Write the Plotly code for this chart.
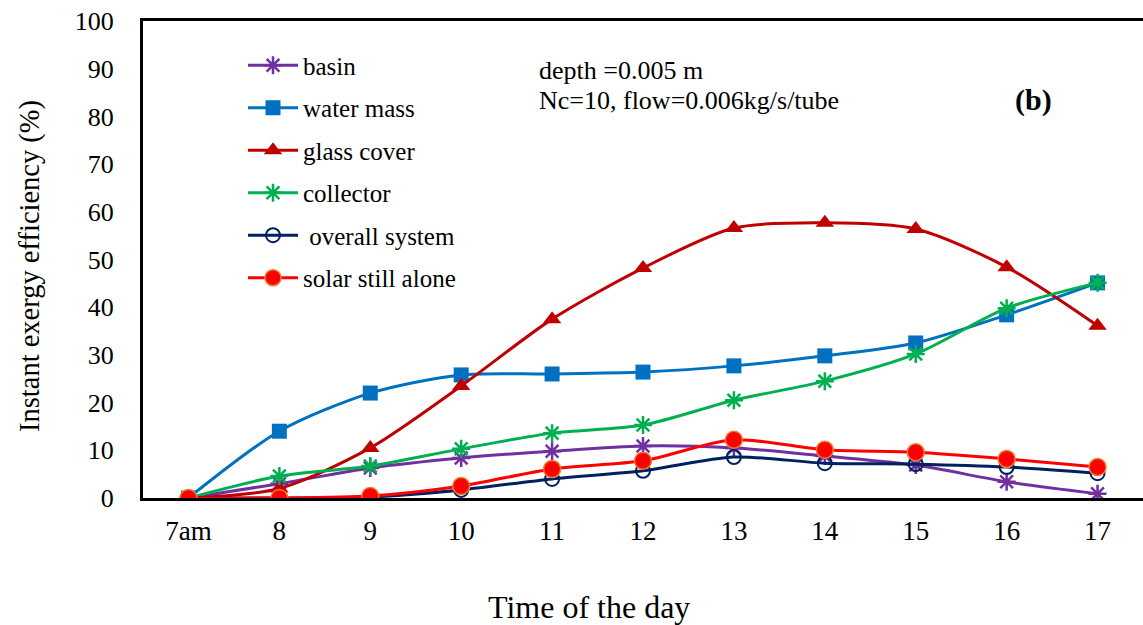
import plotly.graph_objects as go

hours = ["7am", "8", "9", "10", "11", "12", "13", "14", "15", "16", "17"]
basin = [0, 3.0, 6.3, 8.4, 9.8, 10.9, 10.5, 8.8, 6.9, 3.4, 0.9]
water_mass = [0, 14.0, 22.0, 25.8, 26.0, 26.4, 27.7, 29.8, 32.5, 38.4, 45.1]
glass_cover = [0, 2.0, 10.5, 23.5, 37.5, 48.2, 56.6, 57.7, 56.4, 48.4, 36.1]
collector = [0, 4.6, 6.7, 10.3, 13.6, 15.3, 20.5, 24.5, 30.2, 39.8, 45.1]
overall = [0, 0, 0.2, 1.7, 4.0, 5.7, 8.6, 7.3, 7.1, 6.5, 5.2]
solar_still = [0, 0, 0.4, 2.5, 6.1, 7.8, 12.2, 10.1, 9.6, 8.2, 6.5]

FONT = "Liberation Serif, Times New Roman, serif"
fig = go.Figure()

def add(name, y, color, symbol, size, mcolor=None, mline=None, mlw=0):
    fig.add_trace(go.Scatter(
        x=hours, y=y, name=name, mode="lines+markers",
        line=dict(color=color, width=3, shape="spline", smoothing=0.8),
        marker=dict(symbol=symbol, size=size, color=mcolor or color,
                    line=dict(color=mline or color, width=mlw)),
        legendgroup=name,
    ))

add("basin", basin, "#7030A0", "asterisk-open", 15, mlw=2.5)
add("water mass", water_mass, "#0070C0", "square", 15)
add("glass cover", glass_cover, "#C00000", "triangle-up", 16)
add("collector", collector, "#00B050", "asterisk-open", 15, mlw=2.5)
add(" overall system", overall, "#002060", "circle-open", 14, mlw=2)
add("solar still alone", solar_still, "#FF0000", "circle", 17, mcolor="#FF0000", mline="#ED7D31", mlw=1.5)

txt = dict(family=FONT, color="black")
fig.update_layout(
    width=1143, height=625,
    margin=dict(l=143, r=0, t=21, b=127),
    plot_bgcolor="white", paper_bgcolor="white",
    font=dict(family=FONT, color="black", size=26),
    showlegend=True,
    legend=dict(x=0.1, y=0.955, xanchor="left", yanchor="top",
                font=dict(family=FONT, size=25, color="black"),
                bgcolor="rgba(0,0,0,0)", tracegroupgap=7, itemwidth=50),
    xaxis=dict(
        type="category", range=[-0.5, 10.5],
        showline=True, linecolor="black", linewidth=3, mirror=True,
        showgrid=False, ticks="", tickfont=dict(family=FONT, size=27),
        ticklabelstandoff=7,
    ),
    yaxis=dict(
        range=[0, 100], dtick=10,
        showline=True, linecolor="black", linewidth=3,
        showgrid=False, ticks="", tickfont=dict(family=FONT, size=26),
        ticklabelstandoff=21, zeroline=False,
    ),
    annotations=[
        dict(text="Time of the day", xref="paper", yref="paper",
             x=(589 - 143) / 1000, y=-(607 - 498) / 477, xanchor="center", yanchor="middle",
             showarrow=False, font=dict(size=32, **txt)),
        dict(text="Instant exergy efficiency (%)", xref="paper", yref="paper",
             x=-(143 - 30) / 1000, y=(498 - 266) / 477, xanchor="center", yanchor="middle",
             textangle=-90, showarrow=False, font=dict(size=28.5, **txt)),
        dict(text="depth =0.005 m", xref="paper", yref="paper",
             x=0.394, y=(498 - 70) / 477, xanchor="left", yanchor="middle", showarrow=False,
             font=dict(size=26, **txt)),
        dict(text="Nc=10, flow=0.006kg/s/tube", xref="paper", yref="paper",
             x=0.394, y=(498 - 100) / 477, xanchor="left", yanchor="middle", showarrow=False,
             font=dict(size=26, **txt)),
        dict(text="<b>(b)</b>", xref="paper", yref="paper",
             x=0.87, y=(498 - 100) / 477, xanchor="left", yanchor="middle", showarrow=False,
             font=dict(size=30, **txt)),
    ],
)

fig.write_html("out.html")
